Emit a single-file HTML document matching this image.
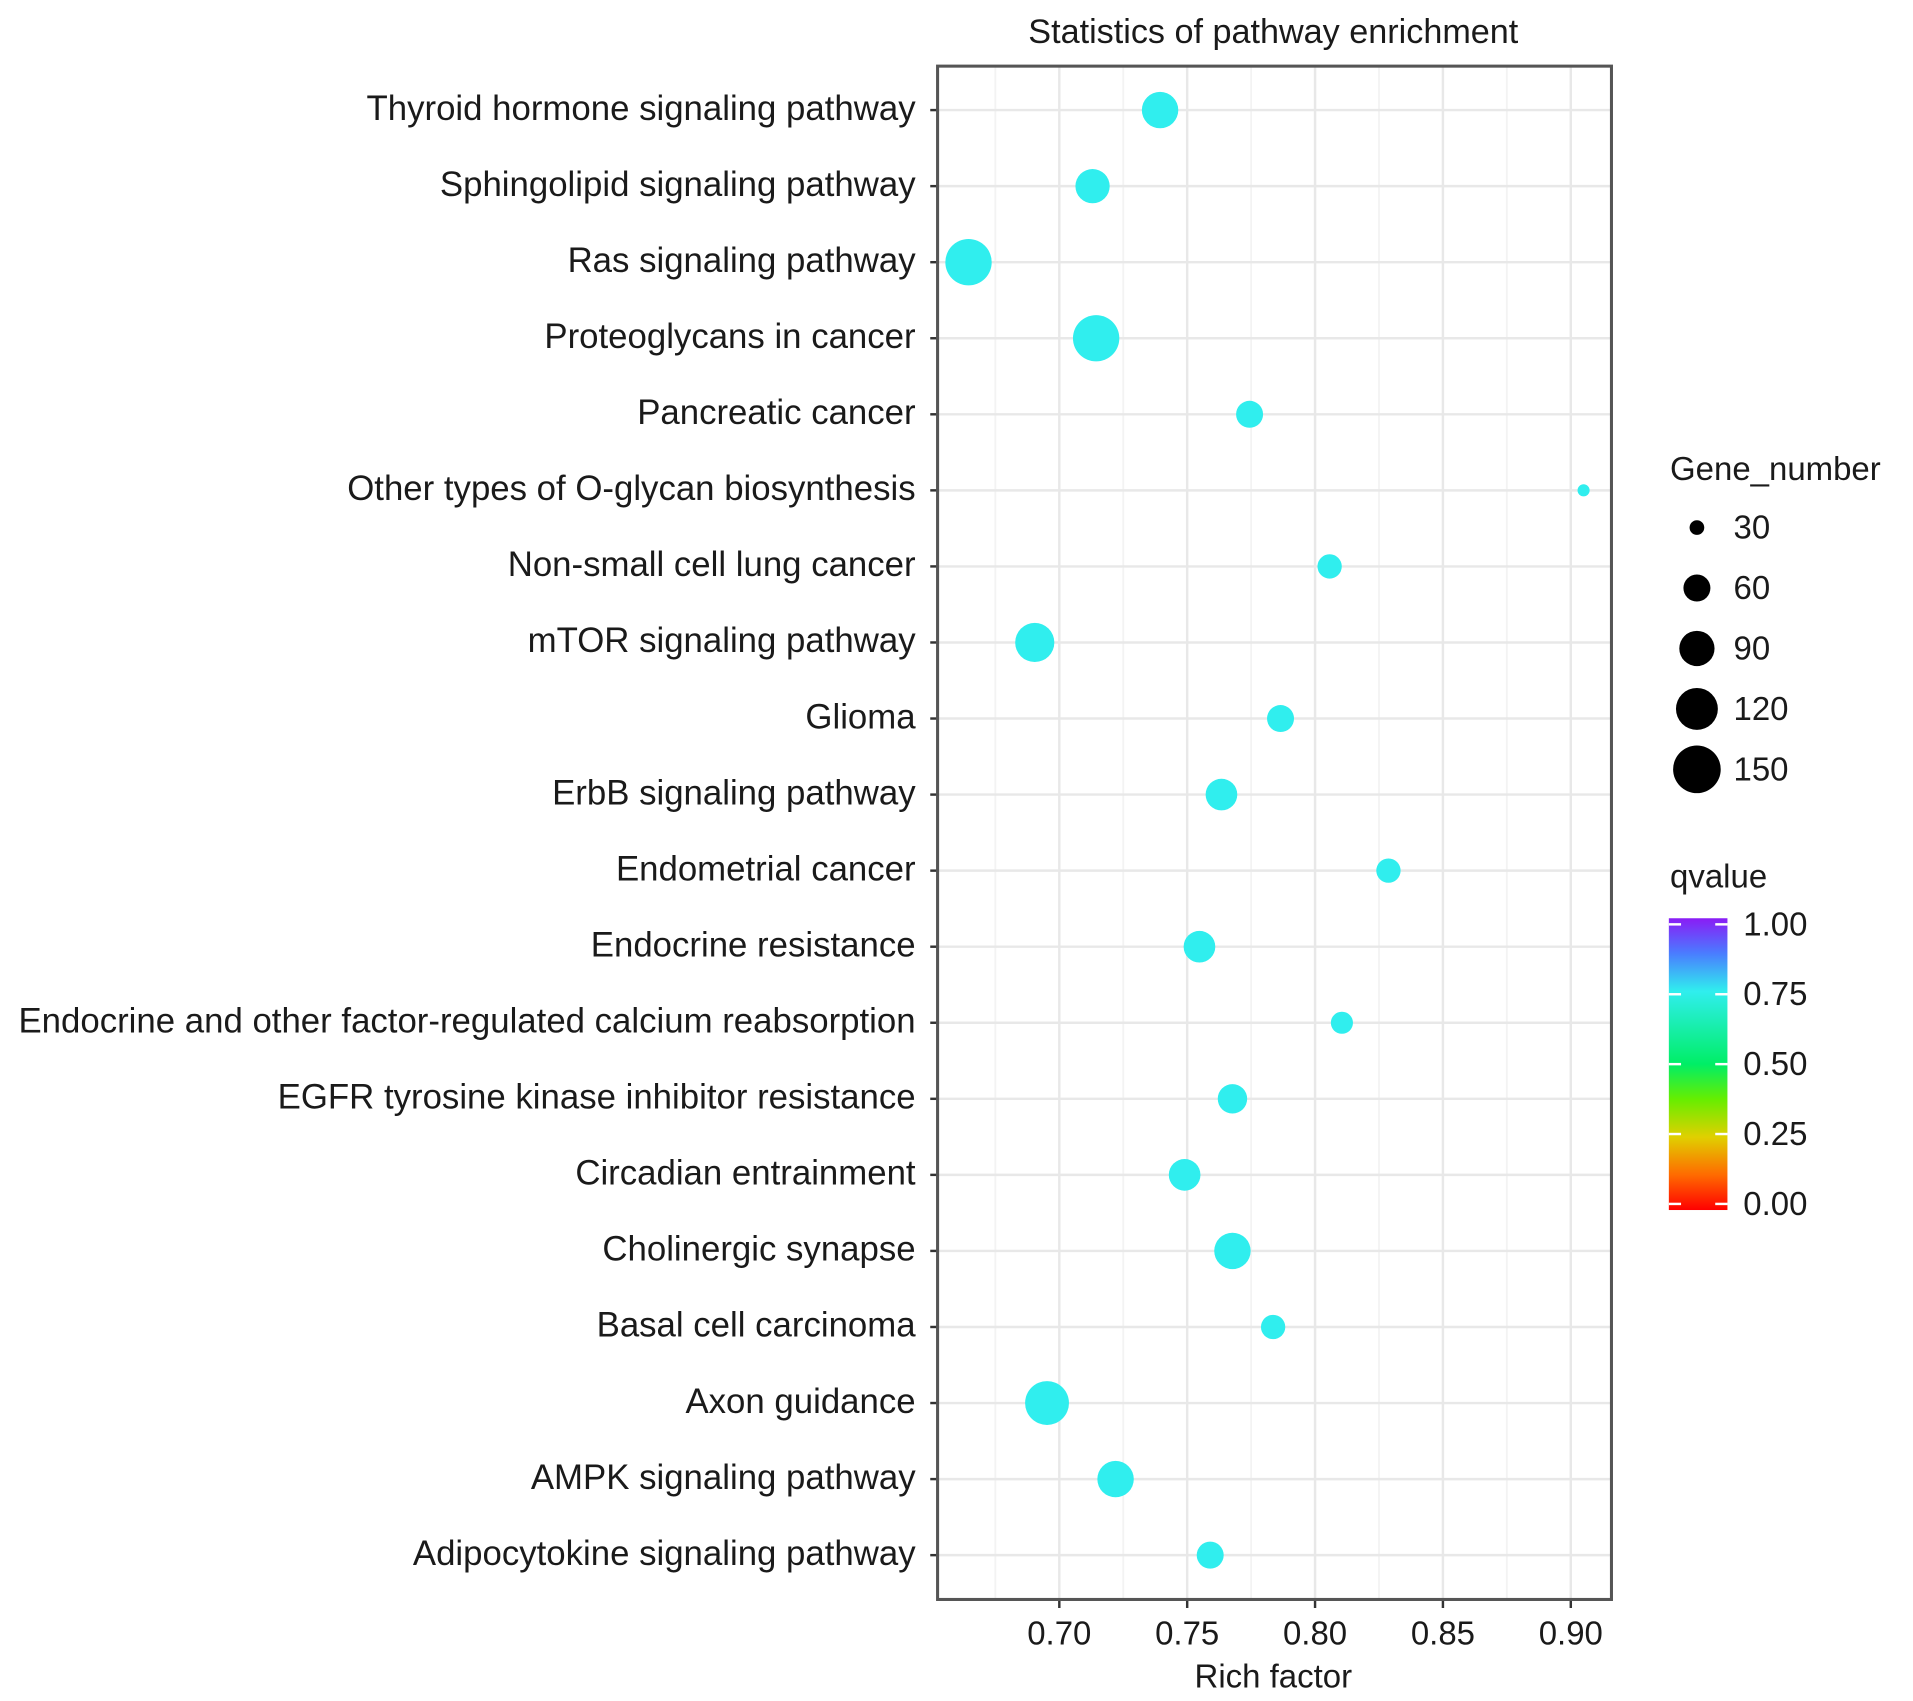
<!DOCTYPE html>
<html><head><meta charset="utf-8"><style>
html,body{margin:0;padding:0;background:#fff}
svg{display:block}
text{font-family:"Liberation Sans",sans-serif;fill:#1a1a1a}
</style></head><body>
<svg id="chart" width="1913" height="1701" viewBox="0 0 1567 1393" xmlns="http://www.w3.org/2000/svg">
<defs>
<linearGradient id="qgrad" x1="0" y1="1" x2="0" y2="0">
<stop offset="0" stop-color="#ff0000"/>
<stop offset="0.12" stop-color="#ff6a00"/>
<stop offset="0.25" stop-color="#e0d000"/>
<stop offset="0.38" stop-color="#66ee00"/>
<stop offset="0.5" stop-color="#00ee66"/>
<stop offset="0.75" stop-color="#30eeee"/>
<stop offset="0.88" stop-color="#4a7cff"/>
<stop offset="1" stop-color="#8a1cf5"/>
</linearGradient>
</defs>
<g id="plot"></g>
</svg>
<script>
const categories = ["Thyroid hormone signaling pathway","Sphingolipid signaling pathway","Ras signaling pathway","Proteoglycans in cancer","Pancreatic cancer","Other types of O-glycan biosynthesis","Non-small cell lung cancer","mTOR signaling pathway","Glioma","ErbB signaling pathway","Endometrial cancer","Endocrine resistance","Endocrine and other factor-regulated calcium reabsorption","EGFR tyrosine kinase inhibitor resistance","Circadian entrainment","Cholinergic synapse","Basal cell carcinoma","Axon guidance","AMPK signaling pathway","Adipocytokine signaling pathway"];
const richFactor = [0.7394,0.713,0.6645,0.7144,0.7744,0.905,0.8057,0.6904,0.7865,0.7634,0.8287,0.7548,0.8105,0.7677,0.749,0.7677,0.7836,0.6952,0.722,0.759];
const geneNumber = [95,86,143,143,60,26,52,107,60,76,52,76,46,68,76,95,52,130,95,60];
const qvalue = [0.75,0.75,0.75,0.75,0.75,0.75,0.75,0.75,0.75,0.75,0.75,0.75,0.75,0.75,0.75,0.75,0.75,0.75,0.75,0.75];
const xTicks = [0.70,0.75,0.80,0.85,0.90];
const xTickLabels = ["0.70","0.75","0.80","0.85","0.90"];
const sizeLegend = [30,60,90,120,150];
const qTicks = [0,0.25,0.5,0.75,1];
const qTickLabels = ["0.00","0.25","0.50","0.75","1.00"];

const NS="http://www.w3.org/2000/svg";
const g=document.getElementById('plot');
function el(tag,attrs,parent){const e=document.createElementNS(NS,tag);for(const k in attrs)e.setAttribute(k,attrs[k]);(parent||g).appendChild(e);return e;}
const L=768,R=1320,T=54,B=1310;
const X0=0.6524,X1=0.9159;
function xs(v){return L+(v-X0)/(X1-X0)*(R-L);}
const rowTop=90,rowStep=62.3;
function ys(i){return rowTop+i*rowStep;}
function rs(n){return Math.sqrt(Math.max(2.87*n-50,4));}
function qcol(q){
  const stops=[[0,[255,0,0]],[0.12,[255,106,0]],[0.25,[224,208,0]],[0.38,[102,238,0]],[0.5,[0,238,102]],[0.75,[48,238,238]],[0.88,[74,124,255]],[1,[138,28,245]]];
  for(let i=1;i<stops.length;i++){if(q<=stops[i][0]){const a=stops[i-1],b=stops[i];const t=(q-a[0])/(b[0]-a[0]);const c=a[1].map((v,j)=>Math.round(v+(b[1][j]-v)*t));return `rgb(${c[0]},${c[1]},${c[2]})`;}}
  return 'rgb(138,28,245)';
}
let t=el('text',{x:1043,y:35,'text-anchor':'middle','font-size':28});t.textContent='Statistics of pathway enrichment';


let panel=el('rect',{x:L,y:T,width:R-L,height:B-T,fill:'#fff'});


for(let i=0;i<xTicks.length+1;i++){
  const v=xTicks[0]-0.025+i*0.05; const x=xs(v);
  if(x>L&&x<R){const m=el('line',{x1:x,x2:x,y1:T,y2:B,stroke:'#f3f3f3','stroke-width':1.5});
  
  }
}
xTicks.forEach((v,i)=>{
  const x=xs(v);
  const gl=el('line',{x1:x,x2:x,y1:T,y2:B,stroke:'#e8e8e8','stroke-width':2});
  
  
  const tk=el('line',{x1:x,x2:x,y1:B,y2:B+7,stroke:'#333','stroke-width':2});
  
  
  const lb=el('text',{x:x,y:B+37,'text-anchor':'middle','font-size':27});lb.textContent=xTickLabels[i];
  
  
});
categories.forEach((c,i)=>{
  const y=ys(i);
  const gl=el('line',{x1:L,x2:R,y1:y,y2:y,stroke:'#e8e8e8','stroke-width':2});
  
  
  const tk=el('line',{x1:L-6,x2:L,y1:y,y2:y,stroke:'#333','stroke-width':2});
  
  
  const lb=el('text',{x:750,y:y+8,'text-anchor':'end','font-size':28.5});lb.textContent=c;
  
  
});
categories.forEach((c,i)=>{
  const p=el('circle',{cx:xs(richFactor[i]),cy:ys(i),r:rs(geneNumber[i]),fill:qcol(qvalue[i])});
  
  
});
let bd=el('rect',{x:L,y:T,width:R-L,height:B-T,fill:'none',stroke:'#555','stroke-width':2.5});


let xt=el('text',{x:1043,y:1382,'text-anchor':'middle','font-size':27});xt.textContent='Rich factor';


let st=el('text',{x:1368,y:393,'font-size':27});st.textContent='Gene_number';


sizeLegend.forEach((n,i)=>{
  const y=432+i*49.5;
  const c=el('circle',{cx:1390,cy:y,r:rs(n),fill:'#000'});
  
  
  const l=el('text',{x:1420,y:y+9,'font-size':27});l.textContent=n;
  
  
});
let qt=el('text',{x:1368,y:727,'font-size':27});qt.textContent='qvalue';


const cbT=752,cbB=991;
let cb=el('rect',{x:1367,y:cbT,width:48,height:cbB-cbT,fill:'url(#qgrad)'});


qTicks.forEach((q,i)=>{
  const y=cbB-5-q*(cbB-cbT-10);
  const a=el('line',{x1:1367,x2:1377,y1:y,y2:y,stroke:'#fff','stroke-width':2});
  
  
  const b=el('line',{x1:1405,x2:1415,y1:y,y2:y,stroke:'#fff','stroke-width':2});
  
  
  const l=el('text',{x:1428,y:y+9,'font-size':27});l.textContent=qTickLabels[i];
  
  
});
</script>
</body></html>
